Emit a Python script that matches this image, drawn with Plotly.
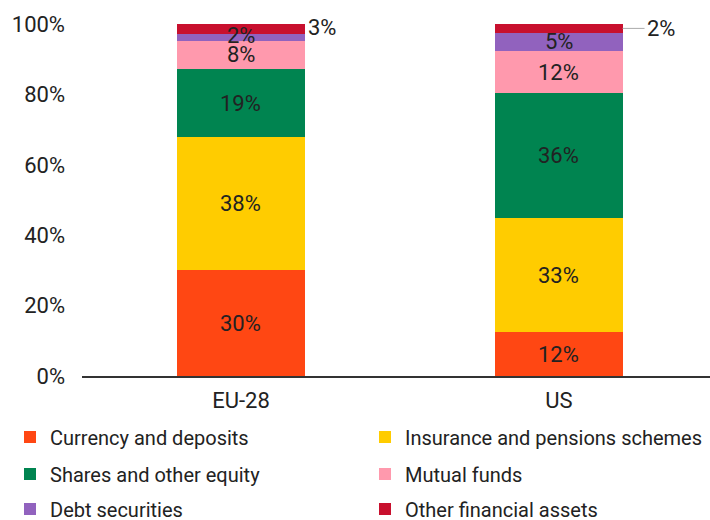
import plotly.graph_objects as go

categories = ["EU-28", "US"]
series_names = ["Currency and deposits", "Insurance and pensions schemes",
                "Shares and other equity", "Mutual funds", "Debt securities",
                "Other financial assets"]
currency = [30.1, 12.4]
insurance = [37.8, 32.5]
shares = [19.3, 35.5]
mutual = [8.0, 11.9]
debt = [1.9, 5.2]
other = [2.9, 2.5]
labels_eu = ["30%", "38%", "19%", "8%", "2%", "3%"]
labels_us = ["12%", "33%", "36%", "12%", "5%", "2%"]
y_ticks = [0, 20, 40, 60, 80, 100]
y_ticktext = ["0%", "20%", "40%", "60%", "80%", "100%"]
colors = ["#FF4713", "#FFCC00", "#008450", "#FF99AD", "#9162BE", "#C8102E"]

series = [currency, insurance, shares, mutual, debt, other]
labels = [labels_eu, labels_us]

FONT = "Roboto"
TXT = "#222"
W, H = 710, 520
fig = go.Figure()
legend_ids = ["legend", "legend2", "legend3", "legend4", "legend5", "legend6"]
for name, vals, col, lg in zip(series_names, series, colors, legend_ids):
    fig.add_trace(go.Bar(x=[0, 1], y=vals, name=name, marker_color=col,
                         marker_line_width=0, width=0.4, hoverinfo="skip",
                         legend=lg))

annotations = []
for ci in range(len(categories)):
    cum = 0
    for si, vals in enumerate(series):
        v = vals[ci]
        mid = cum + v / 2
        cum += v
        txt = labels[ci][si]
        if si == len(series) - 1:
            if ci == 0:
                annotations.append(dict(x=ci + 0.2, y=mid, text=txt, showarrow=False,
                                        xanchor="left", xshift=1, yshift=2,
                                        font=dict(size=22, color=TXT)))
            else:
                annotations.append(dict(x=ci + 0.2, y=mid, text=txt, showarrow=True,
                                        arrowhead=0, arrowwidth=1, arrowcolor="#aaa",
                                        ax=22, ay=0, xanchor="left",
                                        font=dict(size=22, color=TXT)))
        else:
            yshift = 2 if si == len(series) - 2 and ci == 0 else 0
            annotations.append(dict(x=ci, y=mid, text=txt, showarrow=False,
                                    yshift=yshift,
                                    font=dict(size=22, color=TXT)))

leg_common = dict(orientation="h", xref="container", yref="container",
                  xanchor="left", yanchor="middle", traceorder="normal",
                  font=dict(size=20, color=TXT, family=FONT), itemwidth=30,
                  bgcolor="rgba(0,0,0,0)")
row_y = [437, 474, 509]
col_x = [10, 365]
legends = {}
for i, lg in enumerate(legend_ids):
    legends[lg] = dict(leg_common, x=col_x[i % 2] / W, y=1 - row_y[i // 2] / H)

fig.update_layout(
    barmode="stack",
    width=W, height=H,
    margin=dict(l=82, r=0, t=24, b=144, autoexpand=False),
    plot_bgcolor="white", paper_bgcolor="white",
    font=dict(family=FONT, size=20, color=TXT),
    xaxis=dict(tickmode="array", tickvals=[0, 1], ticktext=categories,
               range=[-0.5, 1.475], showline=True, linecolor="#333", linewidth=2,
               ticks="", showgrid=False, zeroline=False, ticklabelstandoff=4,
               tickfont=dict(size=22, color=TXT)),
    yaxis=dict(range=[0, 100], tickmode="array", tickvals=y_ticks, ticktext=y_ticktext,
               showgrid=False, zeroline=False, showline=False, ticks="",
               ticklabelstandoff=16,
               tickfont=dict(size=22, color=TXT)),
    annotations=annotations,
    showlegend=True,
    **legends,
)

fig.write_html("out.html", config={"displayModeBar": False},
               post_script="document.body.style.margin='0px';")
